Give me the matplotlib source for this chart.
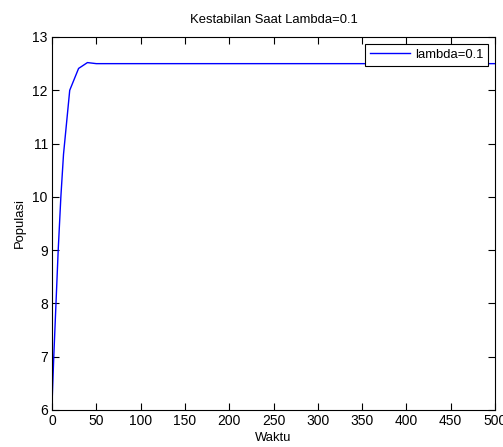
import matplotlib
matplotlib.use("Agg")
import matplotlib.pyplot as plt

waktu = [0, 2, 4.5, 7, 10, 13, 20, 30, 40, 50, 100, 200, 300, 400, 500]
populasi = [6.1, 7.0, 8.0, 9.0, 10.0, 10.8, 12.0, 12.41, 12.52, 12.5, 12.5, 12.5, 12.5, 12.5, 12.5]
xticks = [0, 50, 100, 150, 200, 250, 300, 350, 400, 450, 500]
yticks = [6, 7, 8, 9, 10, 11, 12, 13]

plt.rcParams['font.family'] = ['Liberation Sans', 'DejaVu Sans']
fs = 9.4
fig = plt.figure(figsize=(5.03, 4.47), dpi=100)
ax = fig.add_axes([52/503, 1-410/447, (495-52)/503, (410-37)/447])
ax.plot(waktu, populasi, color='#0000ff', lw=1.0, label='lambda=0.1')
ax.set_xlim(0, 500)
ax.set_ylim(6, 13)
ax.set_xticks(xticks)
ax.set_yticks(yticks)
ax.tick_params(direction='in', top=True, right=True, length=5, labelsize=10, pad=3)
for s in ax.spines.values():
    s.set_linewidth(0.8)
ax.set_title('Kestabilan Saat Lambda=0.1', fontsize=fs, pad=10)
ax.set_xlabel('Waktu', fontsize=fs, labelpad=3)
ax.set_ylabel('Populasi', fontsize=fs, labelpad=5)
leg = ax.legend(loc='upper right', fontsize=fs, frameon=True, fancybox=False,
                edgecolor='black', framealpha=1, borderpad=0.4, handlelength=3.0,
                handletextpad=0.4, borderaxespad=0.5)
leg.get_frame().set_linewidth(0.8)
fig.savefig('out.png', dpi=100, facecolor='white')
